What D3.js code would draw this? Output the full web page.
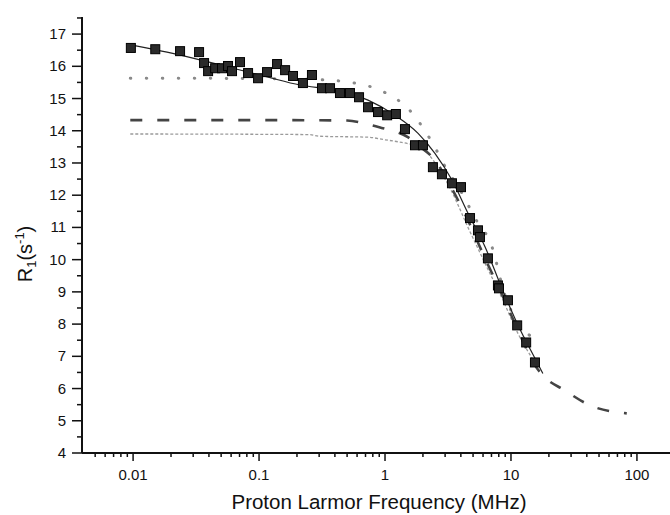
<!DOCTYPE html>
<meta charset="utf-8">
<style>
body { margin: 0; background: #fff; }
text { font-family: "Liberation Sans", Arial, sans-serif; fill: #111; }
</style>
<svg width="670" height="515"></svg>
<script src="https://d3js.org/d3.v7.min.js"></script>
<script>

// measured points (MHz, R1 in s^-1)
var dataFreq = [0.0096, 0.0150, 0.0236, 0.0334, 0.0366, 0.0394, 0.0448, 0.0508, 0.0567, 0.0610,
  0.0706, 0.0818, 0.0982, 0.1157, 0.139, 0.161, 0.186, 0.223, 0.263, 0.316,
  0.366, 0.439, 0.527, 0.622, 0.733, 0.880, 1.04, 1.22, 1.44, 1.73,
  2.0, 2.40, 2.83, 3.40, 4.01, 4.73, 5.47, 5.67, 6.56, 7.88,
  8.03, 9.46, 11.2, 13.2, 15.5];
var dataR1 = [16.57, 16.53, 16.47, 16.44, 16.10, 15.85, 15.94, 15.94, 16.01, 15.85,
  16.13, 15.79, 15.63, 15.82, 16.07, 15.88, 15.70, 15.48, 15.73, 15.32,
  15.32, 15.17, 15.17, 15.04, 14.73, 14.58, 14.48, 14.52, 14.05, 13.55,
  13.55, 12.87, 12.65, 12.37, 12.25, 11.29, 10.91, 10.70, 10.04, 9.20,
  9.11, 8.74, 7.96, 7.43, 6.81];

// fit curves
var fitFreq = [0.0098, 0.0186, 0.034, 0.0622, 0.116, 0.211, 0.401, 0.733, 1.2, 1.83, 2.49, 3.4, 4.56, 6.22, 8.49, 11.4, 15.5, 17.9];
var fitR1 = [16.66, 16.44, 16.2, 15.94, 15.67, 15.42, 15.26, 14.95, 14.48, 13.92, 13.3, 12.47, 11.44, 10.4, 9.1, 7.96, 6.94, 6.47];

var dashFreq = [0.0095, 0.1, 0.5, 0.73, 0.96, 1.24, 1.52, 1.83, 2.49, 3.4, 4.56, 6.22, 8.2, 11.4, 15.5, 17.9, 26.8, 42.4, 83];
var dashR1 = [14.33, 14.33, 14.32, 14.2, 14.08, 13.96, 13.8, 13.55, 13.09, 12.2, 11.22, 10.04, 9.05, 7.8, 6.72, 6.41, 5.94, 5.48, 5.23];

var dotFreq = [0.0095, 0.1, 0.366, 0.508, 0.69, 0.946, 1.27, 1.70, 2.08, 2.49, 2.89, 4.08, 5.17, 7.06, 8.95, 15.8];
var dotR1 = [15.63, 15.62, 15.57, 15.51, 15.42, 15.23, 14.95, 14.48, 13.99, 13.49, 13.0, 12.06, 11.3, 10.4, 8.9, 7.5];

var thinFreq = [0.0095, 0.1, 0.25, 0.3, 0.73, 1.0, 1.3, 1.6, 2.0, 2.5, 3.4, 4.56, 6.2, 8.5, 11.4, 15.5];
var thinR1 = [13.9, 13.89, 13.88, 13.83, 13.8, 13.72, 13.65, 13.58, 13.45, 13.0, 12.1, 11.0, 9.9, 8.8, 7.7, 6.8];

var xTickValues = [0.01, 0.1, 1, 10, 100];
var xTickLabels = ["0.01", "0.1", "1", "10", "100"];
var yTickValues = [4, 5, 6, 7, 8, 9, 10, 11, 12, 13, 14, 15, 16, 17];

var svg = d3.select("svg");

var x = d3.scaleLog().domain([0.00393, 183]).range([82, 670]);
var y = d3.scaleLinear().domain([4, 17.53]).range([453, 17]);

// minor ticks
var xMinor = [];
[0.001, 0.01, 0.1, 1, 10, 100].forEach(function(d) {
  for (var k = 2; k <= 9; k++) {
    var v = d * k;
    if (v > 0.0045 && v < 183) xMinor.push(v);
  }
});
var yMinor = d3.range(4.5, 17.6, 1);

var xg = svg.append("g").attr("transform", "translate(0,453)");
xg.selectAll(".minor").data(xMinor).enter().append("line")
  .attr("x1", x).attr("x2", x).attr("y1", 0).attr("y2", 4)
  .attr("stroke", "#111").attr("stroke-width", 1.5);
xg.selectAll(".major").data(xTickValues).enter().append("line")
  .attr("x1", x).attr("x2", x).attr("y1", 0).attr("y2", 8)
  .attr("stroke", "#111").attr("stroke-width", 1.5);
xg.selectAll("text").data(xTickValues).enter().append("text")
  .attr("x", x).attr("y", 27)
  .attr("text-anchor", "middle").style("font-size", "15px")
  .text(function(d, i) { return xTickLabels[i]; });
xg.append("line").attr("x1", 82).attr("x2", 670).attr("y1", 0).attr("y2", 0)
  .attr("stroke", "#111").attr("stroke-width", 2);

var yg = svg.append("g").attr("transform", "translate(82,0)");
yg.selectAll(".minor").data(yMinor).enter().append("line")
  .attr("y1", y).attr("y2", y).attr("x1", 0).attr("x2", -5)
  .attr("stroke", "#111").attr("stroke-width", 1.5);
yg.selectAll(".major").data(yTickValues).enter().append("line")
  .attr("y1", y).attr("y2", y).attr("x1", 0).attr("x2", -10)
  .attr("stroke", "#111").attr("stroke-width", 1.5);
yg.selectAll("text").data(yTickValues).enter().append("text")
  .attr("x", -16).attr("y", function(d) { return y(d) + 5; })
  .attr("text-anchor", "end").style("font-size", "15px")
  .text(function(d) { return d; });
yg.append("line").attr("x1", 0).attr("x2", 0).attr("y1", 17).attr("y2", 453)
  .attr("stroke", "#111").attr("stroke-width", 2);

// titles
svg.append("text").attr("x", 379).attr("y", 509)
  .attr("text-anchor", "middle").style("font-size", "20.5px")
  .text("Proton Larmor Frequency (MHz)");

var yt = svg.append("text").attr("transform", "translate(32,254) rotate(-90)")
  .attr("text-anchor", "middle").style("font-size", "20px");
yt.append("tspan").text("R");
yt.append("tspan").attr("dy", 4).style("font-size", "13px").text("1");
yt.append("tspan").attr("dy", -4).text("(s");
yt.append("tspan").attr("dy", -8).style("font-size", "13px").text("-1");
yt.append("tspan").attr("dy", 8).text(")");

var line = d3.line().curve(d3.curveMonotoneX)
  .x(function(d) { return x(d[0]); })
  .y(function(d) { return y(d[1]); });

function pairs(a, b) { return a.map(function(d, i) { return [d, b[i]]; }); }

svg.append("path").datum(pairs(thinFreq, thinR1)).attr("d", line)
  .attr("fill", "none").attr("stroke", "#9a9a9a").attr("stroke-width", 1.3)
  .attr("stroke-dasharray", "3,2");

svg.append("path").datum(pairs(dotFreq, dotR1)).attr("d", line)
  .attr("fill", "none").attr("stroke", "#8a8a8a").attr("stroke-width", 3)
  .attr("stroke-linecap", "round").attr("stroke-dasharray", "0.5,15.5");

svg.append("path").datum(pairs(dashFreq, dashR1)).attr("d", line)
  .attr("fill", "none").attr("stroke", "#444").attr("stroke-width", 2.6)
  .attr("stroke-dasharray", "12,15");

svg.append("path").datum(pairs(fitFreq, fitR1)).attr("d", line)
  .attr("fill", "none").attr("stroke", "#222").attr("stroke-width", 1.2);

svg.selectAll(".pt").data(pairs(dataFreq, dataR1)).enter().append("rect")
  .attr("x", function(d) { return x(d[0]) - 4.5; })
  .attr("y", function(d) { return y(d[1]) - 4.5; })
  .attr("width", 9).attr("height", 9)
  .attr("fill", "#2a2a2a").attr("stroke", "#000").attr("stroke-width", 1);

</script>
